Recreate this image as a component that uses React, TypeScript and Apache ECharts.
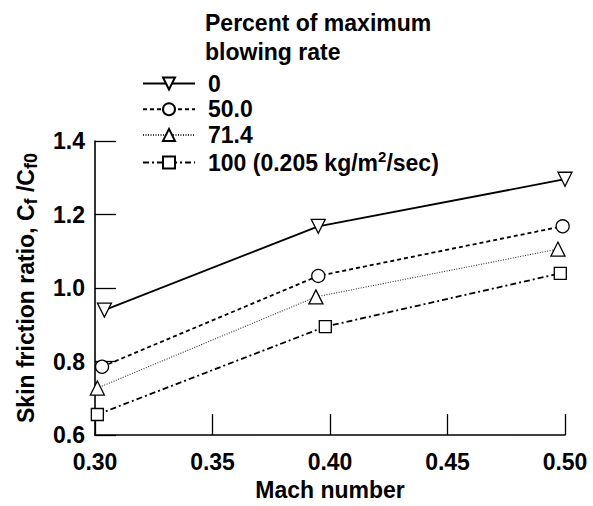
import React, { useEffect, useRef } from "react";
import * as echarts from "echarts";

const legendNames = ["0", "50.0", "71.4", "100 (0.205 kg/m2/sec)"];
const s0 = [[0.304, 0.94], [0.395, 1.168], [0.5, 1.296]];
const s1 = [[0.303, 0.786], [0.395, 1.033], [0.499, 1.168]];
const s2 = [[0.301, 0.728], [0.394, 0.976], [0.497, 1.106]];
const s3 = [[0.301, 0.656], [0.398, 0.895], [0.498, 1.04]];
const xTicks = { min: 0.3, max: 0.5, interval: 0.05 };
const yTicks = { min: 0.6, max: 1.4, interval: 0.2 };

const FONT = "'Liberation Sans', Arial, Helvetica, sans-serif";
const FS = 23;

export default function App() {
  const ref = useRef<HTMLDivElement>(null);
  useEffect(() => {
    if (!ref.current) return;
    const chart = echarts.init(ref.current, undefined, { renderer: "svg" });
    const mk = (name: string, data: number[][], symbol: string, rotate: number, lineType: any, width: number, color: string, size: number) => ({
      name,
      type: "line",
      data,
      symbol,
      symbolSize: size,
      symbolRotate: rotate,
      showSymbol: true,
      lineStyle: { color, width, type: lineType },
      itemStyle: { color: "#fff", borderColor: "#000", borderWidth: 1.3 },
      emphasis: { disabled: true },
      z: 3,
    });
    chart.setOption({
      animation: false,
      backgroundColor: "#fff",
      textStyle: { fontFamily: FONT },
      title: {
        text: "Percent of maximum\nblowing rate",
        left: 200,
        top: 3,
        textStyle: { fontFamily: FONT, fontSize: FS, fontWeight: "bold", color: "#000", lineHeight: 29 },
      },
      legend: {
        orient: "vertical",
        left: 137,
        top: 67,
        itemWidth: 52,
        itemHeight: 15,
        itemGap: 2.7,
        data: legendNames,
        formatter: (n: string) => (n.indexOf("m2") >= 0 ? "{a|100 (0.205 kg/m}{sup|2}{a|/sec)}" : "{a|" + n + "}"),
        textStyle: {
          fontFamily: FONT,
          fontSize: FS,
          fontWeight: "bold",
          color: "#000",
          padding: [0, 0, 0, 8],
          rich: {
            a: { fontFamily: FONT, fontSize: FS, fontWeight: "bold", color: "#000", lineHeight: 23 },
            sup: { fontFamily: FONT, fontSize: 15, fontWeight: "bold", color: "#000", lineHeight: 15, padding: [0, 0, 12, 0] },
          },
        },
      },
      grid: { left: 95, right: 28, top: 141, bottom: 69, containLabel: false },
      xAxis: {
        type: "value",
        min: xTicks.min,
        max: xTicks.max,
        interval: xTicks.interval,
        name: "Mach number",
        nameLocation: "middle",
        nameGap: 41,
        nameTextStyle: { fontFamily: FONT, fontSize: FS, fontWeight: "bold", color: "#000" },
        axisLine: { lineStyle: { color: "#000", width: 1.6 } },
        axisTick: { inside: true, length: 21, lineStyle: { color: "#000", width: 1.3 } },
        axisLabel: { margin: 15, fontFamily: FONT, fontSize: FS, fontWeight: "bold", color: "#000", formatter: (v: number) => v.toFixed(2) },
        splitLine: { show: false },
      },
      yAxis: {
        type: "value",
        min: yTicks.min,
        max: yTicks.max,
        interval: yTicks.interval,
        name: "{a|Skin friction ratio, C}{s|f}{a| /C}{s|f0}",
        nameLocation: "middle",
        nameGap: 57,
        nameTextStyle: {
          fontFamily: FONT,
          fontSize: FS,
          fontWeight: "bold",
          color: "#000",
          rich: {
            a: { fontFamily: FONT, fontSize: FS, fontWeight: "bold", color: "#000", lineHeight: 25 },
            s: { fontFamily: FONT, fontSize: 18, fontWeight: "bold", color: "#000", lineHeight: 18, padding: [10, 0, 0, 0] },
          },
        },
        axisLine: { show: true, lineStyle: { color: "#000", width: 1.6 } },
        axisTick: { show: true, inside: true, length: 21, lineStyle: { color: "#000", width: 1.3 } },
        axisLabel: { margin: 10, fontFamily: FONT, fontSize: FS, fontWeight: "bold", color: "#000", formatter: (v: number) => v.toFixed(1) },
        splitLine: { show: false },
      },
      series: [
        mk(legendNames[0], s0, "triangle", 180, "solid", 1.8, "#000", 14),
        mk(legendNames[1], s1, "circle", 0, [4, 3], 1.8, "#000", 13),
        mk(legendNames[2], s2, "triangle", 0, [1, 1.5], 1.1, "#333", 14),
        mk(legendNames[3], s3, "rect", 0, [6, 3, 2, 3], 1.8, "#000", 12),
      ],
    });
    return () => chart.dispose();
  }, []);
  return <div ref={ref} style={{ position: "absolute", left: 0, top: 0, width: 593, height: 506 }} />;
}
